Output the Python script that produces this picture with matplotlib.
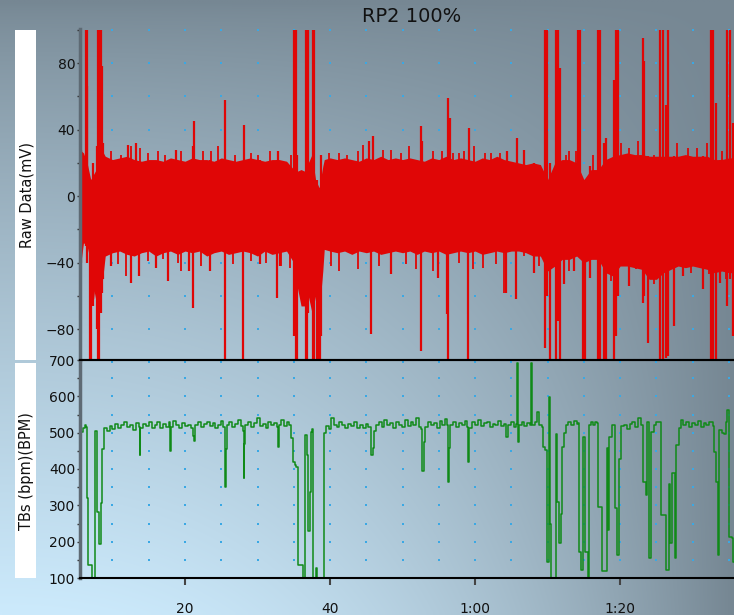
import numpy as np
import matplotlib
matplotlib.use("Agg")
import matplotlib.pyplot as plt
from matplotlib.patches import Rectangle
from matplotlib.ticker import FixedLocator, MultipleLocator

plt.rcParams['font.family'] = ['DejaVu Sans']

TITLE = "RP2 100%"
RAW_LABEL = "Raw Data(mV)"
TB_LABEL = "TBs (bpm)(BPM)"
X_TICKS = [20, 40, 60, 80]
X_TICK_LABELS = ["20", "40", "1:00", "1:20"]
RAW_TICKS = [-80, -40, 0, 40, 80]
TB_TICKS = [100, 200, 300, 400, 500, 600, 700]

# Raw data: dense core band (upper / lower envelope, mV)
CORE_T = [5.5, 6.0, 6.5, 7.0, 7.5, 8.0, 8.5, 9.0, 10, 11, 12, 13, 14, 15, 16, 17, 18, 19,
          20, 21, 22, 23, 24, 25, 26, 27, 28, 29, 30, 31, 32, 33, 34, 35, 35.5, 36, 36.5,
          37, 37.5, 38, 38.5, 39, 39.2, 40, 41, 42, 43, 44, 45, 46, 47, 48, 49, 50, 51,
          52, 53, 54, 55, 56, 57, 58, 59, 60, 61, 62, 63, 64, 65, 66, 67, 68, 69, 70, 71,
          72, 73, 74, 75, 76, 77, 78, 79, 80, 81, 82, 83, 84, 85, 86, 87, 88, 89, 90, 91,
          92, 93, 94, 95, 95.8]
CORE_HI = [28, 26, 20, 10, 14, 18, 28, 24, 22, 23, 24, 22, 21, 22, 22, 21, 23, 22,
           21, 23, 22, 22, 21, 23, 22, 21, 22, 23, 22, 21, 22, 22, 21, 16, 15, 16, 15,
           20, 25, 10, 5, 18, 22, 23, 22, 23, 22, 21, 23, 22, 24, 22, 23, 22, 23,
           22, 21, 23, 22, 24, 22, 23, 22, 21, 23, 22, 24, 22, 21, 20, 19, 20, 19, 10, 20,
           22, 22, 20, 10, 16, 16, 22, 24, 25, 26, 25, 25, 24, 24, 24, 24, 24, 25, 24, 24,
           24, 22, 22, 23, 23]
CORE_LO = [-45, -28, -30, -40, -62, -50, -55, -36, -34, -33, -35, -36, -34, -33, -36, -34, -33, -35,
           -33, -34, -33, -36, -34, -33, -35, -34, -33, -34, -36, -33, -35, -34, -33, -40, -55, -66, -66,
           -60, -70, -60, -70, -45, -32, -33, -34, -33, -35, -33, -34, -33, -35, -34, -33, -34, -33,
           -35, -33, -34, -33, -35, -34, -33, -34, -33, -35, -34, -33, -34, -33, -33, -34, -36, -36, -45, -42,
           -38, -38, -36, -40, -38, -38, -46, -48, -42, -42, -43, -44, -50, -50, -46, -44, -42, -43, -42, -43,
           -44, -46, -45, -46, -46]

# Raw data: individual excursions (time s, low mV, high mV)
SPIKE_T = [5.55, 5.7, 6.3, 6.45, 6.55, 6.9, 7.05, 7.3, 7.9, 8.05, 8.2, 8.35, 8.5, 8.7,
           9.8, 12.2, 12.6, 13.3, 13.7, 16.0, 17.7, 18.8, 20.6, 21.1, 21.2, 23.4, 25.45, 25.55,
           28.0, 28.1, 30.3, 32.7, 32.85, 33.1, 35.05, 35.2, 35.35, 35.5, 36.7, 36.85, 37.0,
           37.65, 37.8, 38.2, 38.4, 38.6, 38.8,
           45.4, 45.65, 45.9, 48.4, 52.55, 52.7, 54.85, 56.1, 56.2, 56.5, 59.0, 59.1, 64.2, 64.4,
           65.6, 65.84, 66.8, 68.1,
           69.6, 69.9, 70.3, 71.15, 71.4, 71.65, 72.3, 73.6, 74.25, 74.45, 74.9, 75.15, 75.9,
           76.9, 77.2, 77.8, 78.1, 79.1, 79.4, 79.7, 81.2, 83.1, 83.35, 83.8, 85.55, 85.85,
           86.3, 86.6, 87.4, 88.6, 91.4, 92.55, 92.85, 93.15, 93.8, 94.8, 95.1, 95.5]
SPIKE_LO = [-50, -40, -30, -40, -20, -100, -100, -66, -80, -100, -100, -70, -58, -50,
            -42, -30, -52, -30, -48, -43, -51, -30, -45, -67, -30, -45, -100, -30,
            -100, -30, -41, -61, -30, -42, -84, -60, -100, -100, -100, -100, -70,
            -100, -100, -100, -100, -100, -84,
            -30, -83, -30, -47, -93, -30, -49, -71, -100, -30, -100, -30, -58, -30,
            -62, -30, -30, -46,
            -91, -60, -100, -100, -75, -100, -53, -45, -20, 5, -100, -100, -49,
            -100, -100, -100, -100, -100, -84, -60, -54, -64, -60, -88, -100, -100,
            -97, -96, -78, -48, -56, -100, -100, -100, -52, -66, -50, -84]
SPIKE_HI = [31, 28, 100, 100, 66, -10, 5, 20, 30, 100, 100, 100, 78, 32,
            22, 31, 20, 32, 20, 20, 20, 28, 20, 30, 45, 22, 20, 58,
            20, 43, 22, 22, 27, 20, 100, 100, 100, 25, 100, 100, 100,
            100, 100, 10, 0, 5, 25,
            33, 20, 36, 20, 42, 33, 20, 20, 59, 47, 20, 41, 20, 27,
            20, 35, 28, 20,
            100, 100, 20, 100, 100, 77, 20, 20, 100, 100, 5, 10, 18,
            100, 100, 32, 35, 70, 100, 100, 25, 95, 81, 24, 100, 100,
            55, 100, 24, 24, 24, 100, 100, 56, 22, 100, 100, 44]

# Raw data: smaller protrusions above / below the band (time s, peak mV)
UP_T = [9.84, 11.22, 12.14, 12.6, 13.29, 13.75, 14.9, 16.27, 17.2, 18.8, 19.49, 22.48,
        23.63, 24.55, 26.85, 29.15, 30.07, 31.68, 34.67, 39.9, 41.3, 42.4, 43.8, 44.5,
        47.3, 48.4, 49.8, 50.9, 54.2, 55.5, 56.9, 57.8, 58.5, 59.9, 61.3, 62.2, 63.4,
        66.8, 72.5, 73.0, 73.9, 76.2, 80.1, 81.2, 82.4, 84.7, 87.9, 89.3, 90.6, 92.0, 94.1]
UP_V = [27, 25, 31, 30, 32, 29, 26, 27, 25, 28, 27, 27,
        27, 30, 25, 26, 25, 27, 25, 26, 26, 25, 27, 31,
        28, 28, 26, 30, 27, 27, 26, 26, 27, 30, 26, 26, 26,
        28, 25, 27, 27, 25, 32, 29, 33, 25, 32, 29, 29, 32, 27]
DN_T = [10.76, 11.91, 14.9, 16.96, 19.03, 19.49, 22.25, 26.62, 29.15, 31.22, 33.29, 34.44,
        40.1, 41.3, 43.8, 46.8, 50.5, 51.9, 54.2, 57.8, 59.7, 61.1, 62.9, 64.0, 65.65,
        66.8, 68.8, 73.0, 78.7, 82.2, 84.7, 88.6, 89.8, 90.4, 92.3, 94.6]
DN_V = [-41, -48, -39, -38, -40, -45, -42, -41, -39, -40, -42, -43,
        -42, -45, -44, -42, -41, -44, -45, -40, -44, -43, -41, -58, -46,
        -36, -42, -45, -51, -44, -53, -48, -46, -42, -47, -50]

# TBs (BPM) trace vertices
TB_T = [5.47, 5.6, 5.7, 5.9, 6.16, 6.39, 6.5, 6.62, 7.08, 7.17, 7.62, 7.64, 7.8, 8.07, 8.1, 8.37,
        8.46, 8.6, 8.83, 9.2, 9.6, 10.0, 10.4, 10.8, 11.2, 11.6, 12.0, 12.4, 12.8, 13.2, 13.6,
        13.75, 13.85, 14.2, 14.6, 15.0, 15.4, 15.8, 16.2, 16.6, 17.0, 17.4, 17.8, 17.88, 18.0,
        18.4, 18.8, 19.2, 19.6, 20.0, 20.4, 20.8, 21.1, 21.24, 21.4, 21.8, 22.2, 22.6, 23.0,
        23.4, 23.8, 24.2, 24.6, 25.0, 25.3, 25.47, 25.6, 25.75, 26.1, 26.5, 26.9, 27.3, 27.7,
        28.0, 28.09, 28.2, 28.3, 28.7, 29.1, 29.5, 29.9, 30.3, 30.7, 31.1, 31.5, 31.9, 32.3,
        32.7, 32.83, 32.95, 33.3, 33.7, 34.1, 34.4, 34.67, 34.9, 35.1, 35.3, 35.54, 36.14,
        36.23, 36.45, 36.48, 36.83, 37.01, 37.12, 37.24, 37.38, 37.52, 37.7, 38.07, 38.16,
        39.15, 39.18, 39.45, 39.8, 40.14, 40.5, 40.9, 41.3, 41.7, 42.1, 42.5, 42.9, 43.3,
        43.7, 44.1, 44.5, 44.9, 45.3, 45.65, 45.88, 46.0, 46.3, 46.7, 47.1, 47.5, 47.9, 48.3,
        48.7, 49.1, 49.5, 49.9, 50.3, 50.7, 51.1, 51.5, 51.9, 52.3, 52.55, 52.69, 52.92, 53.1,
        53.5, 53.9, 54.3, 54.7, 55.1, 55.5, 55.9, 56.1, 56.23, 56.46, 56.6, 57.0, 57.4, 57.8,
        58.2, 58.6, 58.95, 59.08, 59.2, 59.6, 60.0, 60.4, 60.8, 61.2, 61.6, 62.0, 62.4, 62.8,
        63.2, 63.6, 64.0, 64.28, 64.5, 64.9, 65.3, 65.7, 65.75, 65.85, 65.93, 66.05, 66.4,
        66.8, 67.2, 67.6, 67.77, 67.85, 68.2, 68.6, 68.8, 69.2, 69.43, 69.66, 69.89, 70.1,
        70.16, 70.3, 70.44, 71.1, 71.13, 71.27, 71.59, 71.72, 71.82, 71.95, 72.28, 72.51,
        72.8, 73.2, 73.6, 74.0, 74.21, 74.35, 74.58, 74.75, 74.9, 75.13, 75.5, 75.7, 75.72,
        75.95, 76.3, 76.6, 76.87, 76.97, 77.24, 77.43, 77.93, 78.16, 78.35, 78.53, 78.81,
        79.08, 79.26, 79.63, 79.86, 80.09, 80.5, 80.9, 81.3, 81.7, 82.1, 82.5, 82.85, 83.22,
        83.54, 83.77, 84.0, 84.23, 84.69, 85.0, 85.38, 85.61, 85.98, 86.3, 86.53, 86.67,
        86.9, 87.17, 87.54, 87.72, 88.09, 88.37, 88.7, 89.1, 89.5, 89.9, 90.3, 90.7, 91.1,
        91.5, 91.9, 92.3, 92.74, 92.97, 93.2, 93.43, 93.66, 94.0, 94.35, 94.6, 94.8, 95.03,
        95.2, 95.36, 95.63, 95.8]
TB_V = [411, 480, 503, 512, 522, 515, 320, 136, 136, 100, 100, 505, 283, 283, 194, 194,
        306, 454, 514, 505, 518, 510, 524, 512, 520, 530, 515, 522, 508, 526, 515,
        439, 512, 525, 518, 528, 514, 522, 530, 512, 524, 516, 528, 450, 515,
        532, 520, 514, 526, 518, 522, 512, 490, 477, 520, 528, 515, 524, 530,
        518, 526, 514, 522, 532, 515, 350, 455, 520, 528, 516, 524, 534, 518,
        505, 376, 470, 520, 530, 516, 526, 540, 518, 524, 512, 530, 520, 526,
        515, 461, 520, 535, 518, 528, 520, 484, 420, 411, 406, 136, 136,
        100, 100, 494, 439, 228, 228, 338, 503, 510, 100, 127, 100,
        100, 498, 517, 510, 541, 522, 515, 528, 520, 512, 524, 518, 530,
        514, 520, 512, 524, 516, 439, 457, 505, 520, 528, 516, 534, 520, 526,
        512, 530, 520, 515, 536, 518, 528, 522, 540, 515, 510, 395, 475, 515,
        530, 520, 526, 514, 532, 522, 538, 520, 365, 457, 520, 530, 516, 526,
        520, 532, 515, 418, 512, 528, 520, 534, 518, 526, 530, 515, 524, 520,
        532, 518, 525, 487, 520, 528, 515, 525, 691, 520, 475, 522, 530,
        518, 526, 520, 691, 522, 530, 556, 520, 515, 461, 452, 145, 145,
        599, 250, 100, 100, 495, 310, 195, 195, 275, 461, 498, 521,
        530, 522, 532, 524, 526, 172, 122, 122, 489, 172, 100, 100, 521,
        530, 522, 528, 526, 296, 296, 120, 120, 457, 232, 489, 521,
        521, 292, 164, 428, 517, 520, 510, 524, 530, 516, 540, 520, 365,
        328, 530, 154, 503, 521, 530, 530, 274, 274, 122, 122, 360,
        195, 389, 154, 466, 512, 535, 520, 530, 516, 526, 520, 532, 515,
        526, 520, 530, 518, 448, 365, 163, 507, 500, 495, 530, 562, 214,
        214, 210, 145, 140]

RED = '#e00606'
GREEN = '#108a18'
DOT = '#3aa8e4'
SPINE_GRAY = '#5e6a74'
XMIN, XMAX = 5.52, 95.7

W, H = 734, 615
fig = plt.figure(figsize=(W / 100, H / 100), dpi=100)

# background gradient
bg = fig.add_axes([0, 0, 1, 1], zorder=-10)
gh, gw = 123, 147
yy, xx = np.mgrid[0:gh, 0:gw]
u = xx / (gw - 1)
v = 1 - yy / (gh - 1)
w = (1 - v) ** 0.75 * np.clip(1 - u ** 2.2, 0, 1)
gray = np.array([118, 135, 147]) / 255
light = np.array([204, 234, 252]) / 255
img = gray[None, None, :] + (light - gray)[None, None, :] * w[..., None]
bg.imshow(img, aspect='auto', interpolation='bilinear', extent=[0, 1, 0, 1])
bg.set_axis_off()

# white label strips
fig.add_artist(Rectangle((15 / W, 1 - 360 / H), 21 / W, 330 / H, transform=fig.transFigure,
                         facecolor='white', edgecolor='none'))
fig.add_artist(Rectangle((15 / W, 1 - 578 / H), 21 / W, 215 / H, transform=fig.transFigure,
                         facecolor='white', edgecolor='none'))
fig.text(26.5 / W, 1 - 195 / H, RAW_LABEL, rotation=90, ha='center', va='center',
         fontsize=10.5, color='#111111')
fig.text(26.5 / W, 1 - 471 / H, TB_LABEL, rotation=90, ha='center', va='center',
         fontsize=10.5, color='#111111')
fig.text(412 / W, 1 - 17 / H, TITLE, ha='center', va='center', fontsize=14, color='#111111')

left = 80 / W
width = 1 - left
ax1 = fig.add_axes([left, 1 - 360 / H, width, 331 / H])
ax2 = fig.add_axes([left, 1 - 578 / H, width, 218 / H])

for ax in (ax1, ax2):
    ax.set_facecolor('none')
    ax.set_xlim(XMIN, XMAX)
    ax.spines['right'].set_visible(False)
    ax.spines['top'].set_visible(False)
    ax.spines['left'].set_color(SPINE_GRAY)
    ax.spines['left'].set_linewidth(2.5)
    ax.spines['bottom'].set_color('black')
    ax.spines['bottom'].set_linewidth(1.5)
    ax.tick_params(axis='y', which='both', direction='out', length=2.5, width=1,
                   color='#333333', labelsize=10, labelcolor='#111111', pad=1)

# grid dots
gx = np.arange(10, 96, 5)
gy1 = np.arange(-100, 101, 20)
gy2 = np.arange(100, 701, 50)
X1, Y1 = np.meshgrid(gx, gy1)
ax1.scatter(X1.ravel(), Y1.ravel(), s=3, marker='s', color=DOT, linewidths=0, zorder=1,
            clip_on=False)
X2, Y2 = np.meshgrid(gx, gy2)
ax2.scatter(X2.ravel(), Y2.ravel(), s=3, marker='s', color=DOT, linewidths=0, zorder=1)

# raw data
ax1.fill_between(CORE_T, CORE_LO, CORE_HI, color=RED, linewidth=0, zorder=2)
ax1.vlines(UP_T, 0, UP_V, color=RED, linewidth=1.3, zorder=2)
ax1.vlines(DN_T, DN_V, 0, color=RED, linewidth=1.3, zorder=2)
ax1.vlines(SPIKE_T, SPIKE_LO, SPIKE_HI, color=RED, linewidth=1.6, zorder=2)
ax1.set_ylim(-98.5, 100.5)
ax1.yaxis.set_major_locator(FixedLocator(RAW_TICKS))
ax1.yaxis.set_minor_locator(MultipleLocator(20))
ax1.tick_params(axis='x', which='both', bottom=False, labelbottom=False)

# TBs
ax2.plot(TB_T, TB_V, color=GREEN, linewidth=1.1, drawstyle='steps-post', zorder=2)
ax2.set_ylim(100, 700)
ax2.yaxis.set_major_locator(FixedLocator(TB_TICKS))
ax2.yaxis.set_minor_locator(MultipleLocator(50))
ax2.spines['top'].set_visible(True)
ax2.spines['top'].set_color('black')
ax2.spines['top'].set_linewidth(1.5)
ax2.set_xticks(X_TICKS)
ax2.set_xticklabels(X_TICK_LABELS)
ax2.tick_params(axis='x', which='major', direction='out', length=5, width=1.5,
                color='#444444', labelsize=10, labelcolor='#111111', pad=12)

fig.savefig('out.png', dpi=100)
